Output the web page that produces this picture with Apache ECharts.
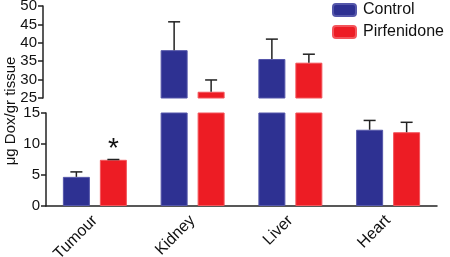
<!DOCTYPE html>
<html>
<head>
<meta charset="utf-8">
<script src="https://cdn.jsdelivr.net/npm/echarts@6/dist/echarts.min.js"></script>
<style>
  html, body { margin: 0; padding: 0; background: #fff; }
  #chart { width: 450px; height: 257px; }
</style>
</head>
<body>
<div id="chart"></div>
<script>
var categories = ['Tumour', 'Kidney', 'Liver', 'Heart']
var controlMean = [4.7, 38.0, 35.6, 12.3]
var controlTop = [5.5, 45.7, 41.0, 13.8]
var pirfMean = [7.45, 26.7, 34.6, 11.9]
var pirfTop = [7.5, 29.9, 36.9, 13.5]
var pirfSig = ['*', '', '', '']
var upperTicks = [25, 50, 5]
var lowerTicks = [0, 15, 5]

var blue = '#2e3192', red = '#ed1c24', ink = '#222'
var font = 'Liberation Sans, Arial, sans-serif'
var chart = echarts.init(document.getElementById('chart'))

function upperVals(arr) {
    return arr.map(function (v) { return v > upperTicks[0] ? v : '-' })
}
function errData(mean, top, lowGrid) {
    var out = []
    for (var i = 0; i < mean.length; i++) {
        if (lowGrid && top[i] < lowerTicks[1]) out.push([i, mean[i], top[i]])
        if (!lowGrid && mean[i] > upperTicks[0]) out.push([i, mean[i], top[i]])
    }
    return out
}
function errSeries(name, mean, top, lowGrid, shift) {
    return {
        name: name,
        type: 'custom',
        xAxisIndex: lowGrid ? 1 : 0,
        yAxisIndex: lowGrid ? 1 : 0,
        z: 3,
        data: errData(mean, top, lowGrid),
        renderItem: function (params, api) {
            var base = api.coord([api.value(0), api.value(1)])
            var tip = api.coord([api.value(0), api.value(2)])
            var x = base[0] + shift
            return {
                type: 'group',
                children: [
                    { type: 'line', shape: { x1: x, y1: base[1], x2: x, y2: tip[1] },
                      style: { stroke: ink, lineWidth: 1.5 } },
                    { type: 'line', shape: { x1: x - 6, y1: tip[1], x2: x + 6, y2: tip[1] },
                      style: { stroke: ink, lineWidth: 1.5 } }
                ]
            }
        }
    }
}
function yAxisFor(grid, ticks, off) {
    return {
        type: 'value', gridIndex: grid, min: ticks[0], max: ticks[1], interval: ticks[2],
        offset: off,
        axisLine: { show: true, lineStyle: { color: ink, width: 1.5 } },
        axisTick: { show: true, length: 5, lineStyle: { color: ink, width: 1.5 } },
        axisLabel: { color: '#111', fontSize: 15, fontFamily: font, margin: 6 },
        splitLine: { show: false }
    }
}

var barCommon = { type: 'bar', barWidth: 27, barGap: '37%' }

var option = {
    animation: false,
    grid: [
        { left: 46, right: 13, top: 6, height: 92, outerBoundsMode: 'none' },
        { left: 46, right: 13, top: 113, bottom: 51, outerBoundsMode: 'none' }
    ],
    legend: {
        orient: 'vertical', left: 332, top: 2, padding: 0,
        itemWidth: 23, itemHeight: 12, itemGap: 6,
        data: ['Control', 'Pirfenidone'],
        textStyle: { fontSize: 16, fontFamily: font, color: '#111', padding: [0, 0, 0, 2] }
    },
    graphic: [{
        type: 'text', x: 11, y: 111, rotation: Math.PI / 2,
        style: { text: 'μg Dox/gr tissue', fontSize: 15, fontFamily: font, fill: '#111',
                 textAlign: 'center', textVerticalAlign: 'middle' }
    }],
    xAxis: [
        { type: 'category', gridIndex: 0, data: categories, show: false },
        { type: 'category', gridIndex: 1, data: categories,
          axisLine: { lineStyle: { color: ink, width: 1.5 } },
          axisTick: { alignWithLabel: true, length: 5, lineStyle: { color: ink, width: 1.5 } },
          axisLabel: { rotate: 45, fontSize: 16, fontFamily: font, color: '#111', margin: 12 } }
    ],
    yAxis: [yAxisFor(0, upperTicks, 3), yAxisFor(1, lowerTicks, 0)],
    series: [
        Object.assign({}, barCommon, { name: 'Control', xAxisIndex: 0, yAxisIndex: 0,
            itemStyle: { color: blue, borderColor: '#5557aa', borderWidth: 1 },
            data: upperVals(controlMean) }),
        Object.assign({}, barCommon, { name: 'Pirfenidone', xAxisIndex: 0, yAxisIndex: 0,
            itemStyle: { color: red, borderColor: '#f3555b', borderWidth: 1 },
            data: upperVals(pirfMean) }),
        Object.assign({}, barCommon, { name: 'Control', xAxisIndex: 1, yAxisIndex: 1,
            itemStyle: { color: blue, borderColor: '#5557aa', borderWidth: 1 },
            data: controlMean }),
        Object.assign({}, barCommon, { name: 'Pirfenidone', xAxisIndex: 1, yAxisIndex: 1,
            itemStyle: { color: red, borderColor: '#f3555b', borderWidth: 1 },
            data: pirfMean.map(function (v, i) {
                return pirfSig[i] ? { value: v, label: { show: true, position: 'top', distance: -3,
                    formatter: pirfSig[i], fontSize: 28, fontFamily: font, color: '#111' } } : v
            }) }),
        errSeries('Control', controlMean, controlTop, false, -18.5),
        errSeries('Pirfenidone', pirfMean, pirfTop, false, 18.5),
        errSeries('Control', controlMean, controlTop, true, -18.5),
        errSeries('Pirfenidone', pirfMean, pirfTop, true, 18.5)
    ]
}
chart.setOption(option)
</script>
</body>
</html>
